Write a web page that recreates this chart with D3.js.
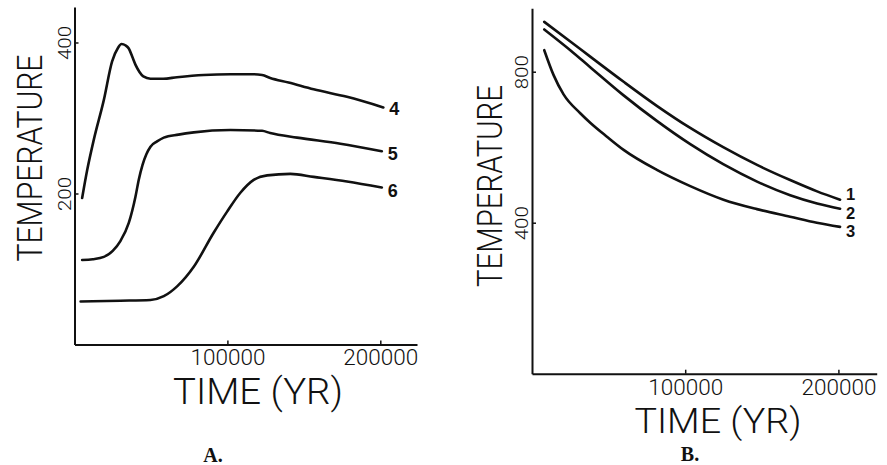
<!DOCTYPE html>
<html>
<head>
<meta charset="utf-8">
<script src="https://cdn.jsdelivr.net/npm/d3@7"></script>
<style>
  html, body { margin: 0; padding: 0; background: #fff; }
  svg { display: block; }
  .stroke-font { font-family: Roboto, "Liberation Sans", sans-serif; font-weight: 300; fill: #111; }
  .curve-label { font-family: "Liberation Sans", Arial, sans-serif; font-weight: bold; fill: #111; }
  .panel-label { font-family: "Liberation Serif", "Times New Roman", serif; font-weight: bold; fill: #111; }
</style>
</head>
<body>
<svg id="chart" width="887" height="465"></svg>
<script>
// Panel A: temperature histories (time in years, temperature in degrees)
const curve4 = [[5000,194],[8300,231],[12600,271],[19200,324],[24600,375],[28500,393],[30700,398],[33500,396],[35500,392],[38000,380],[40000,370],[42500,361],[45000,355],[49700,352],[58000,352],[67000,354],[84500,357],[102000,358],[116000,358],[122700,357],[128000,353],[140000,347],[156400,338],[178200,328],[202000,314]];
const curve5 = [[5000,112],[12000,113],[19200,116],[25000,124],[30000,137],[35500,161],[39900,196],[42000,218],[44500,238],[47000,252],[49700,262],[54000,269],[58400,274],[68000,278],[78000,281],[102000,284],[122700,283],[128000,280],[145600,274],[173900,266],[201000,256]];
const curve6 = [[4000,57],[30000,58],[49700,59],[58400,64],[67100,77],[78000,103],[91000,148],[99800,176],[108500,201],[117200,218],[126000,224],[141200,226],[156400,222],[178200,216],[201000,208]];

// Panel B: cooling curves
const curve1 = [[8000,932],[25000,880],[38000,840],[59600,774],[81700,709],[103300,651],[124800,600],[146900,553],[168500,513],[186100,483],[201100,461]];
const curve2 = [[8000,912],[25000,857],[38000,812],[59600,738],[81700,669],[103300,608],[124800,555],[146900,509],[168500,473],[186100,451],[201100,437]];
const curve3 = [[8000,857],[14100,791],[20600,740],[31500,690],[38000,665],[48900,628],[59800,593],[81500,540],[103300,497],[125000,461],[146800,436],[168500,416],[185900,400],[201100,389]];

const seriesA = ["4", "5", "6"];
const seriesB = ["1", "2", "3"];
const timeTicks = [100000, 200000];
const tempTicksA = [200, 400];
const tempTicksB = [400, 800];

const svg = d3.select("#chart");
const line = (x, y) => d3.line().x(d => x(d[0])).y(d => y(d[1])).curve(d3.curveMonotoneX);

function drawPanel(cfg) {
  const { x, y, curves, names, yTicks, label, tickY, tempTitle, timeTitle, panelTitle } = cfg;
  const g = svg.append("g");

  // axes: ticks point inward, no end ticks
  const xAxis = g.append("g")
    .attr("transform", `translate(0,${y(0)})`)
    .call(d3.axisBottom(x).tickValues(timeTicks).tickSize(-4).tickSizeOuter(0).tickFormat(d3.format("d")));
  const yAxis = g.append("g")
    .attr("transform", `translate(${x(0)},0)`)
    .call(d3.axisLeft(y).tickValues(yTicks).tickSize(-4).tickSizeOuter(0).tickFormat(d3.format("d")));

  [xAxis, yAxis].forEach(a => {
    a.select(".domain").attr("stroke", "#111").attr("stroke-width", 2);
    a.selectAll(".tick line").attr("stroke", "#111").attr("stroke-width", 1.5);
    a.selectAll(".tick text").attr("class", "stroke-font").attr("fill", null);
  });

  xAxis.selectAll(".tick text")
    .attr("y", tickY).attr("dy", 0)
    .attr("font-size", 22.5)
    .attr("textLength", 75).attr("lengthAdjust", "spacingAndGlyphs");

  yAxis.selectAll(".tick text")
    .attr("transform", "rotate(-90)")
    .attr("x", 0).attr("y", -4).attr("dy", 0)
    .attr("text-anchor", "middle")
    .attr("font-size", 17.5)
    .attr("textLength", 34).attr("lengthAdjust", "spacingAndGlyphs");

  // curves with their number at the right-hand end
  curves.forEach((c, i) => {
    g.append("path")
      .attr("d", line(x, y)(c))
      .attr("fill", "none")
      .attr("stroke", "#111")
      .attr("stroke-width", 2.6)
      .attr("stroke-linejoin", "round")
      .attr("stroke-linecap", "round");
    const end = c[c.length - 1];
    g.append("text")
      .attr("class", "curve-label")
      .attr("x", x(end[0]) + 6)
      .attr("y", y(end[1]) + label.dy[i])
      .attr("font-size", label.size)
      .text(names[i]);
  });

  // axis titles
  g.append("text")
    .attr("class", "stroke-font")
    .attr("transform", `translate(${tempTitle.x},${tempTitle.y}) rotate(-90)`)
    .attr("text-anchor", "middle")
    .attr("font-size", 35)
    .attr("textLength", tempTitle.len).attr("lengthAdjust", "spacingAndGlyphs")
    .text("TEMPERATURE");

  g.append("text")
    .attr("class", "stroke-font")
    .attr("x", timeTitle.x).attr("y", timeTitle.y)
    .attr("text-anchor", "middle")
    .attr("font-size", timeTitle.size)
    .attr("textLength", timeTitle.len).attr("lengthAdjust", "spacingAndGlyphs")
    .text("TIME (YR)");

  g.append("text")
    .attr("class", "panel-label")
    .attr("x", panelTitle.x).attr("y", panelTitle.y)
    .attr("text-anchor", "middle")
    .attr("font-size", 20)
    .text(panelTitle.text);
}

const xA = d3.scaleLinear().domain([0, 224000]).range([74.5, 417]);
const yA = d3.scaleLinear().domain([0, 447]).range([344.5, 7]);
const xB = d3.scaleLinear().domain([0, 225000]).range([532, 876.7]);
const yB = d3.scaleLinear().domain([0, 968]).range([373.7, 8.3]);

drawPanel({
  x: xA, y: yA,
  curves: [curve4, curve5, curve6], names: seriesA, yTicks: tempTicksA,
  label: { size: 18, dy: [7.5, 9, 9.5] },
  tickY: 20.5,
  tempTitle: { x: 42, y: 158, len: 207 },
  timeTitle: { x: 258, y: 404, len: 170, size: 36 },
  panelTitle: { x: 213, y: 462, text: "A." }
});

drawPanel({
  x: xB, y: yB,
  curves: [curve1, curve2, curve3], names: seriesB, yTicks: tempTicksB,
  label: { size: 16.5, dy: [0, 10, 10] },
  tickY: 21,
  tempTitle: { x: 501.7, y: 186, len: 202 },
  timeTitle: { x: 718, y: 432.5, len: 167, size: 34.5 },
  panelTitle: { x: 690, y: 461, text: "B." }
});
</script>
</body>
</html>
